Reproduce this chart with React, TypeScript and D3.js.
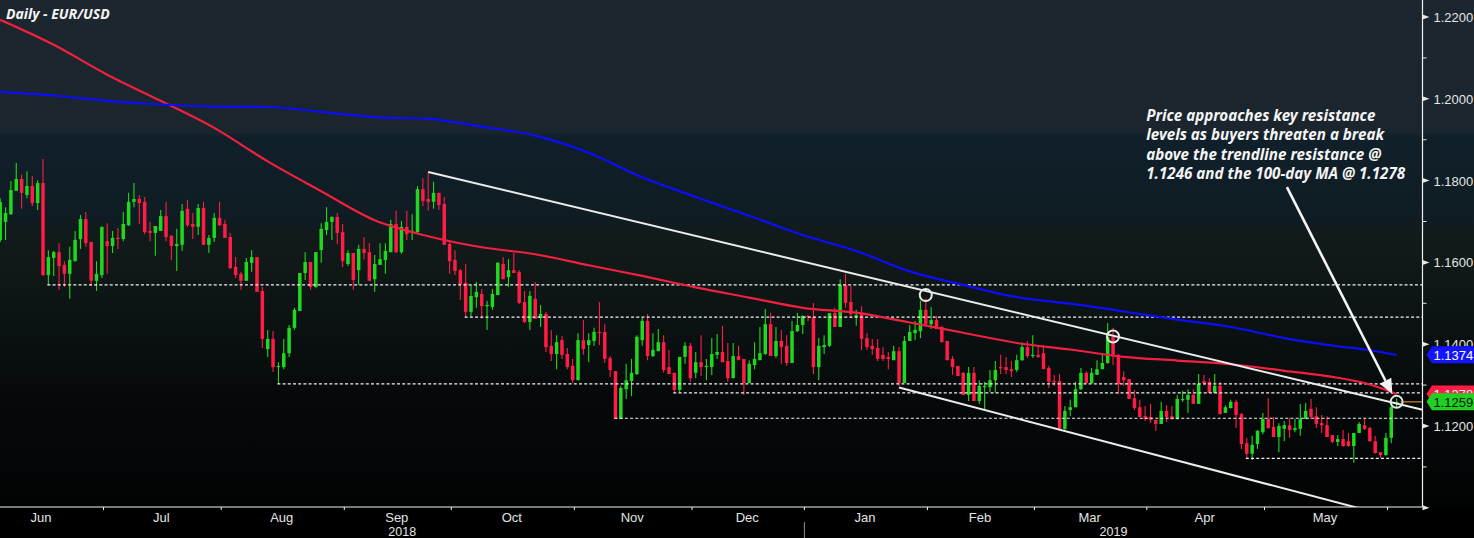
import * as d3 from 'd3'

// Daily EUR/USD, one candle per weekday starting 2018-06-04
const startDate = '2018-06-04'

const open = [
  1.1655, 1.1699, 1.1718, 1.1775, 1.1804, 1.1765, 1.1787, 1.1745, 1.1794, 1.1569,
  1.1611, 1.1625, 1.1594, 1.1572, 1.1603, 1.1657, 1.1706, 1.165, 1.1555, 1.1569,
  1.1652, 1.164, 1.166, 1.1657, 1.1691, 1.1748, 1.1755, 1.1748, 1.1677, 1.1672,
  1.1677, 1.1713, 1.1665, 1.164, 1.1643, 1.1731, 1.1694, 1.1687, 1.1733, 1.1643,
  1.166, 1.1709, 1.1694, 1.1662, 1.1589, 1.1572, 1.1555, 1.1599, 1.1613, 1.153,
  1.1388, 1.1413, 1.1344, 1.1344, 1.1378, 1.144, 1.1481, 1.1574, 1.1601, 1.154,
  1.163, 1.1679, 1.1699, 1.1711, 1.1674, 1.1596, 1.1623, 1.1581, 1.1633, 1.1625,
  1.1559, 1.1594, 1.1606, 1.1625, 1.1694, 1.1625, 1.1687, 1.1672, 1.1674, 1.1779,
  1.1755, 1.1748, 1.177, 1.1743, 1.1645, 1.1606, 1.1581, 1.155, 1.1479, 1.1515,
  1.1523, 1.1493, 1.1491, 1.152, 1.1596, 1.1564, 1.1581, 1.1577, 1.1503, 1.1454,
  1.1511, 1.1464, 1.1474, 1.1396, 1.1376, 1.141, 1.1376, 1.1347, 1.1312, 1.141,
  1.1398, 1.1408, 1.143, 1.143, 1.1366, 1.1334, 1.1217, 1.129, 1.131, 1.1327,
  1.141, 1.1457, 1.1371, 1.1383, 1.1405, 1.1344, 1.133, 1.1288, 1.1369, 1.1396,
  1.133, 1.1356, 1.1344, 1.1344, 1.1374, 1.1381, 1.1359, 1.1317, 1.1371, 1.1364,
  1.1305, 1.1349, 1.1361, 1.1376, 1.1449, 1.1371, 1.1408, 1.1396, 1.1354, 1.1432,
  1.1447, 1.1469, 1.1467, 1.1344, 1.1393, 1.1396, 1.1476, 1.1442, 1.1545, 1.1503,
  1.1467, 1.1474, 1.1415, 1.1396, 1.1391, 1.1374, 1.1369, 1.1361, 1.1383, 1.1305,
  1.1408, 1.1427, 1.1432, 1.1484, 1.1449, 1.1459, 1.1442, 1.1408, 1.1364, 1.1347,
  1.133, 1.1276, 1.133, 1.1261, 1.1295, 1.1295, 1.1312, 1.1344, 1.1344, 1.1339,
  1.1337, 1.1361, 1.1393, 1.1371, 1.1374, 1.1378, 1.1342, 1.131, 1.131, 1.1193,
  1.1239, 1.1246, 1.129, 1.133, 1.1305, 1.1325, 1.1339, 1.1354, 1.1418, 1.1374,
  1.132, 1.1315, 1.1268, 1.1246, 1.1224, 1.1222, 1.1215, 1.1205, 1.1237, 1.1224,
  1.1217, 1.1264, 1.1264, 1.1276, 1.1254, 1.131, 1.1308, 1.1281, 1.1298, 1.1232,
  1.1244, 1.1259, 1.1229, 1.1158, 1.1132, 1.1156, 1.1185, 1.1217, 1.1198, 1.1173,
  1.1193, 1.1202, 1.119, 1.1193, 1.1217, 1.1242, 1.1224, 1.1207, 1.1202, 1.1178,
  1.1161, 1.1168, 1.1163, 1.1151, 1.1183, 1.1202, 1.1195, 1.1163, 1.1136, 1.1129,
  1.1171, 1.1256,
]

const high = [
  1.1757, 1.1735, 1.1799, 1.1843, 1.1814, 1.1823, 1.1811, 1.1801, 1.1853, 1.163,
  1.1628, 1.1647, 1.1603, 1.1638, 1.1677, 1.1716, 1.1723, 1.165, 1.1603, 1.1687,
  1.1696, 1.1677, 1.1684, 1.1723, 1.177, 1.1794, 1.1765, 1.176, 1.1699, 1.1689,
  1.1728, 1.1748, 1.1667, 1.1682, 1.1743, 1.1753, 1.1721, 1.1743, 1.1748, 1.1667,
  1.1721, 1.1748, 1.1704, 1.1672, 1.1613, 1.1577, 1.1611, 1.163, 1.1613, 1.154,
  1.1435, 1.1432, 1.1356, 1.1413, 1.1447, 1.1489, 1.1574, 1.1625, 1.1601, 1.1625,
  1.1696, 1.1735, 1.1713, 1.1721, 1.1694, 1.163, 1.1623, 1.1643, 1.1662, 1.1647,
  1.1618, 1.1647, 1.1647, 1.1704, 1.1726, 1.1701, 1.1726, 1.1718, 1.1787, 1.1806,
  1.1821, 1.1797, 1.177, 1.176, 1.1655, 1.163, 1.1584, 1.1596, 1.1545, 1.1552,
  1.1535, 1.1506, 1.1535, 1.1601, 1.1613, 1.1608, 1.1623, 1.1581, 1.153, 1.153,
  1.1552, 1.1496, 1.1479, 1.1435, 1.1422, 1.142, 1.1391, 1.1364, 1.1427, 1.1459,
  1.1427, 1.144, 1.1503, 1.1449, 1.1371, 1.1334, 1.1298, 1.1352, 1.1364, 1.1422,
  1.1464, 1.1474, 1.1427, 1.1437, 1.1422, 1.1386, 1.133, 1.1369, 1.1405, 1.1403,
  1.1381, 1.1422, 1.1364, 1.1415, 1.1425, 1.1445, 1.1403, 1.1403, 1.1396, 1.1364,
  1.1361, 1.1405, 1.1442, 1.1486, 1.1476, 1.1442, 1.1435, 1.1422, 1.1457, 1.1476,
  1.1471, 1.1471, 1.1501, 1.1415, 1.1422, 1.1476, 1.1489, 1.1559, 1.1572, 1.1542,
  1.1484, 1.1493, 1.1427, 1.1413, 1.1413, 1.1393, 1.1381, 1.1396, 1.1393, 1.142,
  1.1447, 1.1457, 1.1506, 1.1511, 1.1491, 1.1469, 1.1445, 1.1408, 1.1371, 1.1347,
  1.1332, 1.1344, 1.1344, 1.1312, 1.1308, 1.1337, 1.1359, 1.1374, 1.1369, 1.1359,
  1.1374, 1.1405, 1.1408, 1.1422, 1.1398, 1.1398, 1.1347, 1.1325, 1.1327, 1.1249,
  1.1264, 1.1308, 1.1342, 1.1334, 1.1342, 1.1361, 1.1374, 1.1452, 1.144, 1.1376,
  1.1334, 1.1315, 1.1288, 1.1264, 1.1249, 1.1254, 1.1215, 1.1259, 1.1251, 1.1249,
  1.1276, 1.1286, 1.129, 1.129, 1.1327, 1.1325, 1.1317, 1.1327, 1.1308, 1.1251,
  1.1264, 1.1264, 1.1232, 1.1171, 1.1176, 1.119, 1.1232, 1.1268, 1.1222, 1.1207,
  1.1212, 1.122, 1.1217, 1.1254, 1.1256, 1.1266, 1.1246, 1.1227, 1.1224, 1.1178,
  1.1178, 1.119, 1.1183, 1.1183, 1.121, 1.1217, 1.1198, 1.1176, 1.1136, 1.1183,
  1.1256, 1.1268,
]

const low = [
  1.165, 1.1655, 1.1716, 1.1775, 1.1731, 1.1757, 1.1738, 1.1728, 1.1567, 1.1545,
  1.1567, 1.1533, 1.154, 1.1511, 1.1603, 1.1633, 1.1638, 1.1542, 1.153, 1.1562,
  1.1572, 1.1623, 1.1633, 1.1652, 1.1689, 1.1735, 1.1694, 1.1669, 1.1652, 1.1616,
  1.1677, 1.1652, 1.1606, 1.1579, 1.1628, 1.1687, 1.1657, 1.1667, 1.1643, 1.1623,
  1.165, 1.1689, 1.166, 1.1584, 1.1562, 1.1533, 1.1555, 1.1577, 1.1528, 1.1391,
  1.1369, 1.1332, 1.1303, 1.1339, 1.1369, 1.1435, 1.1481, 1.1557, 1.1533, 1.1537,
  1.1599, 1.1667, 1.1655, 1.1645, 1.1589, 1.1591, 1.1533, 1.1545, 1.1608, 1.1555,
  1.1528, 1.1594, 1.1572, 1.1625, 1.1623, 1.1621, 1.1655, 1.1655, 1.1672, 1.1738,
  1.1726, 1.1731, 1.1728, 1.1643, 1.1572, 1.1569, 1.1508, 1.1467, 1.1467, 1.1489,
  1.1462, 1.1435, 1.1484, 1.152, 1.1559, 1.154, 1.1574, 1.1498, 1.1452, 1.1435,
  1.1462, 1.1442, 1.1381, 1.1359, 1.1339, 1.1364, 1.1339, 1.1305, 1.1312, 1.1374,
  1.1356, 1.1396, 1.1398, 1.1354, 1.132, 1.1217, 1.1217, 1.1266, 1.1273, 1.1325,
  1.1396, 1.1361, 1.1369, 1.1383, 1.133, 1.1327, 1.1281, 1.1281, 1.1352, 1.1308,
  1.1317, 1.1322, 1.1312, 1.1325, 1.1364, 1.1356, 1.1308, 1.1317, 1.1361, 1.1276,
  1.1305, 1.1339, 1.1361, 1.1374, 1.1371, 1.1366, 1.1352, 1.1347, 1.1354, 1.143,
  1.1425, 1.1457, 1.1327, 1.1312, 1.1376, 1.1393, 1.1442, 1.1442, 1.1489, 1.1464,
  1.1445, 1.1386, 1.1386, 1.1374, 1.1359, 1.1359, 1.1339, 1.1361, 1.1298, 1.1305,
  1.1408, 1.141, 1.1415, 1.1447, 1.1437, 1.1437, 1.1405, 1.1361, 1.1325, 1.1322,
  1.1276, 1.1261, 1.1261, 1.1254, 1.1239, 1.1283, 1.1281, 1.1327, 1.1327, 1.132,
  1.1332, 1.1359, 1.1366, 1.1366, 1.1366, 1.1339, 1.1293, 1.1298, 1.1188, 1.1188,
  1.1224, 1.1246, 1.1288, 1.1303, 1.1303, 1.1325, 1.1339, 1.1352, 1.1349, 1.1278,
  1.1298, 1.1266, 1.1239, 1.1222, 1.1212, 1.1207, 1.1188, 1.1205, 1.121, 1.1215,
  1.1215, 1.1259, 1.1232, 1.1254, 1.1254, 1.13, 1.1281, 1.1281, 1.1229, 1.1232,
  1.1242, 1.1195, 1.1144, 1.1122, 1.1117, 1.1144, 1.118, 1.1193, 1.1173, 1.1136,
  1.1163, 1.1171, 1.1185, 1.1176, 1.1217, 1.1217, 1.1195, 1.1183, 1.1173, 1.1158,
  1.1151, 1.1149, 1.1149, 1.111, 1.1183, 1.119, 1.1161, 1.1132, 1.1122, 1.1127,
  1.1158, 1.1246,
]

const close = [
  1.1748, 1.1721, 1.1777, 1.1804, 1.177, 1.1787, 1.1745, 1.1794, 1.1569, 1.1613,
  1.1625, 1.1591, 1.1572, 1.1606, 1.1655, 1.1706, 1.1647, 1.1555, 1.1572, 1.1687,
  1.164, 1.166, 1.1657, 1.1694, 1.1748, 1.1755, 1.1745, 1.1674, 1.1672, 1.1689,
  1.1713, 1.1662, 1.164, 1.1645, 1.1726, 1.1691, 1.1687, 1.1733, 1.1643, 1.166,
  1.1709, 1.1691, 1.166, 1.1586, 1.1569, 1.1555, 1.1601, 1.1613, 1.1528, 1.1413,
  1.1413, 1.1344, 1.1347, 1.1378, 1.144, 1.1484, 1.1574, 1.1601, 1.154, 1.1625,
  1.1682, 1.1699, 1.1711, 1.1672, 1.1603, 1.1623, 1.1557, 1.1633, 1.1623, 1.1555,
  1.1596, 1.1608, 1.1628, 1.1694, 1.1625, 1.1687, 1.1669, 1.1677, 1.1779, 1.175,
  1.1748, 1.177, 1.174, 1.1643, 1.1603, 1.1579, 1.1547, 1.1479, 1.1518, 1.1528,
  1.1493, 1.1496, 1.1523, 1.1599, 1.1559, 1.1581, 1.1574, 1.1501, 1.1454, 1.1518,
  1.1462, 1.1474, 1.1393, 1.1376, 1.1405, 1.1374, 1.1344, 1.1312, 1.141, 1.1388,
  1.141, 1.143, 1.1427, 1.1364, 1.1337, 1.1217, 1.1293, 1.1312, 1.133, 1.1418,
  1.1457, 1.1371, 1.1386, 1.1405, 1.1337, 1.1327, 1.1288, 1.1369, 1.1396, 1.1317,
  1.1356, 1.1344, 1.1347, 1.1376, 1.1381, 1.1356, 1.1317, 1.1371, 1.1361, 1.1305,
  1.1352, 1.1364, 1.1378, 1.1449, 1.1371, 1.1408, 1.1393, 1.1354, 1.1432, 1.1447,
  1.1469, 1.1467, 1.1344, 1.1396, 1.1398, 1.1476, 1.1442, 1.1545, 1.1501, 1.1474,
  1.1471, 1.1413, 1.1393, 1.1388, 1.1364, 1.1364, 1.1364, 1.1383, 1.1305, 1.1408,
  1.143, 1.1435, 1.1484, 1.1449, 1.1459, 1.1437, 1.1405, 1.1361, 1.1344, 1.1322,
  1.1276, 1.133, 1.1261, 1.1298, 1.1298, 1.1312, 1.1337, 1.1342, 1.1337, 1.1334,
  1.1361, 1.1393, 1.1371, 1.1374, 1.1369, 1.1339, 1.1308, 1.1308, 1.1193, 1.1237,
  1.1246, 1.129, 1.133, 1.1305, 1.133, 1.1339, 1.1354, 1.1418, 1.1374, 1.1303,
  1.1312, 1.1266, 1.1244, 1.1222, 1.1217, 1.1215, 1.1205, 1.1237, 1.1222, 1.1217,
  1.1266, 1.1266, 1.1276, 1.1254, 1.1303, 1.1305, 1.1281, 1.1298, 1.1229, 1.1246,
  1.1259, 1.1227, 1.1156, 1.1132, 1.1154, 1.1188, 1.1217, 1.1195, 1.1173, 1.12,
  1.1202, 1.119, 1.1195, 1.1217, 1.1237, 1.1222, 1.1205, 1.1202, 1.1173, 1.1161,
  1.1168, 1.1151, 1.1151, 1.1183, 1.1205, 1.1193, 1.1163, 1.1134, 1.1129, 1.1171,
  1.1246, 1.1259,
]

// moving averages, read at these candle positions
const maAt = [0, 10, 20, 30, 40, 50, 60, 70, 80, 90, 100, 110, 120, 130, 140, 150, 160, 170, 180, 190, 200, 210, 220, 230, 240, 250, 255, 258, 261]
const ma100 = [1.2193, 1.2132, 1.2059, 1.1995, 1.1929, 1.1847, 1.1774, 1.1703, 1.1664, 1.1637, 1.162, 1.1593, 1.1567, 1.1539, 1.1514, 1.1489, 1.1477, 1.1453, 1.1428, 1.1403, 1.1387, 1.1369, 1.136, 1.1351, 1.1335, 1.1318, 1.1305, 1.1293, 1.1278]
const ma200 = [1.2017, 1.2008, 1.1995, 1.1986, 1.1981, 1.198, 1.1968, 1.1955, 1.1951, 1.1932, 1.191, 1.1868, 1.1808, 1.176, 1.1714, 1.1667, 1.1628, 1.1578, 1.1545, 1.1515, 1.1499, 1.148, 1.146, 1.1442, 1.1415, 1.1395, 1.1387, 1.1381, 1.1374]

const priceTicks = [1.1, 1.11, 1.12, 1.13, 1.14, 1.15, 1.16, 1.17, 1.18, 1.19, 1.2, 1.21, 1.22]

// dotted support levels and the day each one starts
const supportLevel = [1.1545, 1.1466, 1.1303, 1.1281, 1.1219, 1.1121]
const supportFrom = ['2018-06-15', '2018-10-03', '2018-08-15', '2018-11-27', '2018-11-12', '2019-04-25']

const trendUpper: [string, number][] = [['2018-09-24', 1.1821], ['2019-06-04', 1.1255]]
const trendLower: [string, number][] = [['2019-01-24', 1.1294], ['2019-05-06', 1.1047]]
const touches: [string, number][] = [['2019-01-31', 1.152], ['2019-03-21', 1.1419], ['2019-06-04', 1.1259]]

const noteLines = [
  'Price approaches key resistance',
  'levels as buyers threaten a break',
  'above the trendline resistance @',
  '1.1246 and the 100-day MA @ 1.1278',
]

const W = 1474
const H = 538
const PLOT_R = 1422.5
const PLOT_B = 507
const GREEN = '#1fd81f'
const RED = '#ff1c45'
const AXIS_TXT = '#e4e4e4'
const TAG_H = 8.5

function weekdays(start: string, n: number): Date[] {
  const out: Date[] = []
  const d = new Date(start + 'T12:00:00')
  while (out.length < n) {
    const wd = d.getDay()
    if (wd !== 0 && wd !== 6) out.push(new Date(d))
    d.setDate(d.getDate() + 1)
  }
  return out
}

export default function App() {
  const days = weekdays(startDate, close.length)
  const key = d3.timeFormat('%Y-%m-%d')
  const idxOf = (s: string) => days.findIndex(d => key(d) === s)

  const x = d3.scaleLinear().domain([0, close.length - 1]).range([0.2, 1396.6])
  const y = d3.scaleLinear().domain([1.12, 1.22]).range([426, 17])
  const step = x(1) - x(0)

  // month segments
  type Seg = { key: string; start: number; end: number; date: Date }
  const months: Seg[] = []
  days.forEach((d, i) => {
    const k = d3.timeFormat('%Y-%m')(d)
    const last = months[months.length - 1]
    if (!last || last.key !== k) months.push({ key: k, start: i, end: i, date: d })
    else last.end = i
  })
  const boundary = (i: number) => (x(i - 1) + x(i)) / 2 - 1
  const monthTicks = months.filter(m => m.start > 0).map(m => boundary(m.start))
  const monthLabels = months
    .map((m, k) => {
      const missing = m.start === 0 ? m.date.getDate() - 1 - Math.floor((m.date.getDate() - 1) / 7) * 2 : 0
      const left = m.start > 0 ? boundary(m.start) : x(m.start - missing) - step / 2 - 1
      const next = months[k + 1]
      const right = next ? boundary(next.start) : x(m.end) + step / 2
      const n = m.end - m.start + 1 + missing
      return { text: d3.timeFormat('%b')(m.date), cx: (left + right) / 2 - 1, show: n >= 15 }
    })
    .filter(l => l.show)

  const janStart = months.find(m => m.date.getMonth() === 0 && m.start > 0)
  const yearSplit = janStart ? boundary(janStart.start) : PLOT_R
  const years = [
    { text: String(days[0].getFullYear()), cx: yearSplit / 2 },
    { text: String(days[days.length - 1].getFullYear()), cx: (yearSplit + PLOT_R) / 2 },
  ]

  const maLine = d3
    .line<number>()
    .x((_, i) => x(maAt[i]))
    .y(v => y(v))
    .curve(d3.curveMonotoneX)

  const extend = (pts: [string, number][]) => {
    const i0 = idxOf(pts[0][0])
    const i1 = idxOf(pts[1][0])
    const slope = (pts[1][1] - pts[0][1]) / (i1 - i0)
    const iEnd = x.invert(PLOT_R)
    return { x1: x(i0), y1: y(pts[0][1]), x2: PLOT_R, y2: y(pts[0][1] + slope * (iEnd - i0)) }
  }
  const up = extend(trendUpper)
  const dn = extend(trendLower)

  // annotation arrow (candle position, price)
  const arrowFrom: [number, number] = [240.5, 1.1784]
  const arrowTo: [number, number] = [260.2, 1.1278]
  const ax1 = x(arrowFrom[0])
  const ay1 = y(arrowFrom[1])
  const ax2 = x(arrowTo[0])
  const ay2 = y(arrowTo[1])
  const len = Math.hypot(ax2 - ax1, ay2 - ay1)
  const ux = (ax2 - ax1) / len
  const uy = (ay2 - ay1) / len
  const bx = ax2 - ux * 15
  const by = ay2 - uy * 15
  const head = `${ax2},${ay2} ${bx + uy * 6.5},${by - ux * 6.5} ${bx - uy * 6.5},${by + ux * 6.5}`

  const noteX = x(214.2)
  const noteY = y(1.1946)

  const last = close[close.length - 1]
  const tags = [
    { v: ma200[ma200.length - 1], fill: '#1414ff', text: '#ffffff' },
    { v: ma100[ma100.length - 1], fill: RED, text: '#ffffff' },
    { v: last, fill: '#22d022', text: '#071607' },
  ]
  const tagShape = (cy: number) =>
    `M${PLOT_R + 4},${cy} L${PLOT_R + 9.5},${cy - TAG_H} L${W},${cy - TAG_H} L${W},${cy + TAG_H} L${PLOT_R + 9.5},${cy + TAG_H} Z`

  // the visible band of a label that sits partly under a value tag drawn later
  const visibleBand = (cy: number, covers: number[]): [number, number] => {
    let top = 0
    let bot = H
    covers.forEach(c => {
      if (Math.abs(c - cy) < 2 * TAG_H) {
        if (c > cy) bot = Math.min(bot, c - TAG_H)
        else top = Math.max(top, c + TAG_H)
      }
    })
    return [top, bot]
  }
  const tagYs = tags.map(t => y(t.v))

  return (
    <svg
      width={W}
      height={H}
      viewBox={`0 0 ${W} ${H}`}
      style={{ position: 'absolute', left: 0, top: 0, display: 'block' }}
    >
      <defs>
        <linearGradient id="bg" x1="0" y1="0" x2="0" y2={PLOT_B} gradientUnits="userSpaceOnUse">
          <stop offset="0" stopColor="#1c262e" />
          <stop offset="0.26" stopColor="#1b252d" />
          <stop offset="0.27" stopColor="#10202a" />
          <stop offset="0.43" stopColor="#0f1c23" />
          <stop offset="0.46" stopColor="#121b1b" />
          <stop offset="0.58" stopColor="#0e1515" />
          <stop offset="0.68" stopColor="#0a1011" />
          <stop offset="0.78" stopColor="#06090a" />
          <stop offset="1" stopColor="#020404" />
        </linearGradient>
        <clipPath id="plot">
          <rect x={0} y={0} width={PLOT_R} height={PLOT_B} />
        </clipPath>
        {priceTicks.map((t, k) => {
          const [a, b] = visibleBand(y(t), tagYs)
          return (
            <clipPath id={`lab${k}`} key={k}>
              <rect x={PLOT_R} y={a} width={W - PLOT_R} height={b - a} />
            </clipPath>
          )
        })}
        {tags.map((t, k) => {
          const [a, b] = visibleBand(tagYs[k], tagYs.slice(k + 1))
          return (
            <clipPath id={`tag${k}`} key={k}>
              <rect x={PLOT_R} y={a} width={W - PLOT_R} height={b - a} />
            </clipPath>
          )
        })}
      </defs>

      <rect x={0} y={0} width={W} height={PLOT_B} fill="url(#bg)" />
      <rect x={0} y={PLOT_B} width={W} height={H - PLOT_B} fill="#000" />

      <g clipPath="url(#plot)">
        {/* candles */}
        {close.map((c, i) => {
          const o = open[i]
          const col = c >= o ? GREEN : RED
          const cx = x(i)
          const top = y(Math.max(o, c))
          const bot = y(Math.min(o, c))
          return (
            <g key={i}>
              <line x1={cx} x2={cx} y1={y(high[i])} y2={y(low[i])} stroke={col} strokeWidth={1.1} />
              <rect x={cx - 1.75} y={top} width={3.5} height={Math.max(1.2, bot - top)} fill={col} />
            </g>
          )
        })}

        {/* support levels */}
        {supportLevel.map((v, k) => (
          <line
            key={k}
            x1={x(idxOf(supportFrom[k])) - 1}
            x2={PLOT_R}
            y1={y(v)}
            y2={y(v)}
            stroke="#f2f2f2"
            strokeWidth={1.2}
            strokeDasharray="3 2.2"
          />
        ))}

        {/* moving averages */}
        <path d={maLine(ma100) ?? ''} fill="none" stroke="#f0203f" strokeWidth={2.2} />
        <path d={maLine(ma200) ?? ''} fill="none" stroke="#0c0cff" strokeWidth={2.2} />

        {/* trendlines */}
        <line {...up} stroke="#ececec" strokeWidth={2} />
        <line {...dn} stroke="#ececec" strokeWidth={2} />

        {touches.map(([d, v], k) => (
          <circle key={k} cx={x(idxOf(d))} cy={y(v)} r={6} fill="none" stroke="#e8e8e8" strokeWidth={2} />
        ))}

        {/* last price line */}
        <line x1={x(close.length - 1) + 4} x2={PLOT_R} y1={y(last)} y2={y(last)} stroke="#f0a030" strokeWidth={1} />

        {/* arrow */}
        <line x1={ax1} y1={ay1} x2={bx} y2={by} stroke="#f4f4f4" strokeWidth={2.6} />
        <polygon points={head} fill="#f4f4f4" />
      </g>

      {/* axes */}
      <line x1={0} x2={PLOT_R} y1={PLOT_B} y2={PLOT_B} stroke="#f0f0f0" strokeWidth={1.2} />
      <line x1={PLOT_R} x2={PLOT_R} y1={0} y2={PLOT_B} stroke="#f0f0f0" strokeWidth={1.2} />
      {monthTicks.map((t, k) => (
        <line key={k} x1={t} x2={t} y1={PLOT_B} y2={PLOT_B + 3} stroke="#f0f0f0" strokeWidth={1} />
      ))}
      <line x1={yearSplit} x2={yearSplit} y1={PLOT_B + 15} y2={H} stroke="#8c8c8c" strokeWidth={1} />
      {monthLabels.map((l, k) => (
        <text
          key={k}
          x={l.cx}
          y={PLOT_B + 15}
          textAnchor="middle"
          fontFamily="'Liberation Sans Narrow', 'Liberation Sans', sans-serif"
          fontSize={13}
          fill={AXIS_TXT}
        >
          {l.text}
        </text>
      ))}
      {years.map((l, k) => (
        <text
          key={k}
          x={l.cx}
          y={PLOT_B + 28.5}
          textAnchor="middle"
          fontFamily="'Liberation Sans Narrow', 'Liberation Sans', sans-serif"
          fontSize={12.5}
          fill={AXIS_TXT}
        >
          {l.text}
        </text>
      ))}

      {priceTicks.map((t, k) => {
        const ty = y(t)
        const major = Math.round(t * 100) % 2 === 0
        return (
          <g key={k}>
            {major ? (
              <polygon points={`${PLOT_R},${ty - 2.5} ${PLOT_R + 7},${ty} ${PLOT_R},${ty + 2.5}`} fill="#e8e8e8" />
            ) : (
              <line x1={PLOT_R} x2={PLOT_R + 4} y1={ty} y2={ty} stroke="#e8e8e8" strokeWidth={1} />
            )}
            {major && ty > 10 && ty < PLOT_B - 5 && (
              <text
                x={PLOT_R + 11}
                y={ty + 5}
                clipPath={`url(#lab${k})`}
                fontFamily="'Liberation Sans', sans-serif"
                fontSize={13}
                fill={AXIS_TXT}
              >
                {t.toFixed(4)}
              </text>
            )}
          </g>
        )
      })}

      {/* value tags */}
      {tags.map((t, k) => (
        <g key={k}>
          <path d={tagShape(tagYs[k])} fill={t.fill} />
          <text
            x={PLOT_R + 11}
            y={tagYs[k] + 5}
            clipPath={`url(#tag${k})`}
            fontFamily="'Liberation Sans', sans-serif"
            fontSize={13}
            fill={t.text}
          >
            {t.v.toFixed(4)}
          </text>
        </g>
      ))}

      {/* titles */}
      <text
        x={6}
        y={19}
        fontFamily="'Noto Sans', sans-serif"
        fontStyle="italic"
        fontWeight={700}
        fontSize={14}
        fill="#f4f4f4"
      >
        Daily - EUR/USD
      </text>
      <g fontFamily="'Noto Sans', sans-serif" fontStyle="italic" fontWeight={700} fontSize={15.2} fill="#f4f4f4">
        {noteLines.map((s, k) => (
          <text key={k} x={noteX} y={noteY + k * 19.5}>
            {s}
          </text>
        ))}
      </g>
    </svg>
  )
}
